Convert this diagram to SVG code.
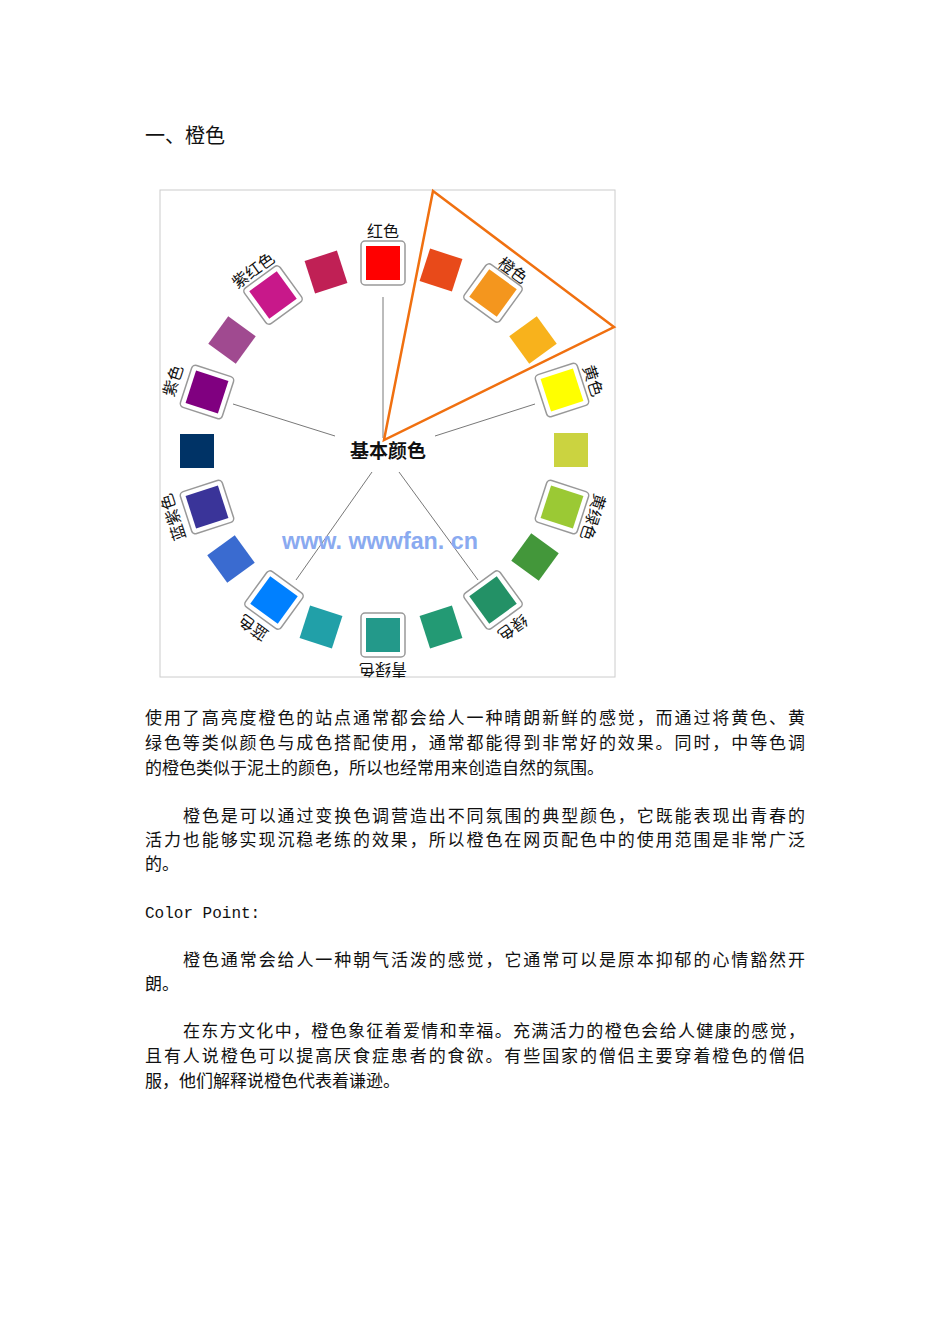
<svg xmlns="http://www.w3.org/2000/svg" width="950" height="1344" viewBox="0 0 950 1344">
<style>
.t{font-family:"Noto Sans CJK SC","Liberation Serif",serif;font-size:17px;fill:#111}
.l{font-family:"Noto Sans CJK SC",sans-serif;font-size:16px;fill:#111;text-anchor:middle}
.fr{fill:#fff;stroke:#999;stroke-width:1.5}
.ln{stroke:#555;stroke-width:0.8;fill:none}
</style>
<rect width="950" height="1344" fill="#fff"/>
<text class="t" x="145" y="143" style="font-size:20px">一、橙色</text>
<rect x="160" y="190" width="455" height="487" fill="#fff" stroke="#ccc"/>
<g id="connectors">
<line class="ln" x1="383" y1="297" x2="383" y2="438"/>
<line class="ln" x1="233" y1="404" x2="335" y2="436"/>
<line class="ln" x1="535" y1="404" x2="435" y2="436"/>
<line class="ln" x1="296" y1="580" x2="372" y2="472"/>
<line class="ln" x1="478" y1="580" x2="399" y2="472"/>
</g>
<g id="wheel">
<g transform="translate(383,263)"><rect class="fr" x="-22" y="-22" width="44" height="44" rx="4"/><rect x="-17" y="-17" width="34" height="34" fill="#ff0000"/></g>
<g transform="translate(441,270) rotate(18)"><rect x="-17" y="-17" width="34" height="34" fill="#e84a1a"/></g>
<g transform="translate(493,293) rotate(36)"><rect class="fr" x="-22" y="-22" width="44" height="44" rx="4"/><rect x="-17" y="-17" width="34" height="34" fill="#f4961e"/></g>
<g transform="translate(533,340) rotate(54)"><rect x="-17" y="-17" width="34" height="34" fill="#f8b21c"/></g>
<g transform="translate(562,390) rotate(72)"><rect class="fr" x="-22" y="-22" width="44" height="44" rx="4"/><rect x="-17" y="-17" width="34" height="34" fill="#ffff00"/></g>
<g transform="translate(571,450) rotate(90)"><rect x="-17" y="-17" width="34" height="34" fill="#cbd340"/></g>
<g transform="translate(562,507) rotate(108)"><rect class="fr" x="-22" y="-22" width="44" height="44" rx="4"/><rect x="-17" y="-17" width="34" height="34" fill="#9bc934"/></g>
<g transform="translate(535,557) rotate(126)"><rect x="-17" y="-17" width="34" height="34" fill="#43973a"/></g>
<g transform="translate(493,600) rotate(144)"><rect class="fr" x="-22" y="-22" width="44" height="44" rx="4"/><rect x="-17" y="-17" width="34" height="34" fill="#239166"/></g>
<g transform="translate(441,627) rotate(162)"><rect x="-17" y="-17" width="34" height="34" fill="#239a74"/></g>
<g transform="translate(383,635) rotate(180)"><rect class="fr" x="-22" y="-22" width="44" height="44" rx="4"/><rect x="-17" y="-17" width="34" height="34" fill="#23998a"/></g>
<g transform="translate(321,627) rotate(198)"><rect x="-17" y="-17" width="34" height="34" fill="#21a0a8"/></g>
<g transform="translate(274,600) rotate(216)"><rect class="fr" x="-22" y="-22" width="44" height="44" rx="4"/><rect x="-17" y="-17" width="34" height="34" fill="#0080ff"/></g>
<g transform="translate(231,559) rotate(234)"><rect x="-17" y="-17" width="34" height="34" fill="#3a6bd0"/></g>
<g transform="translate(207,507) rotate(252)"><rect class="fr" x="-22" y="-22" width="44" height="44" rx="4"/><rect x="-17" y="-17" width="34" height="34" fill="#3a3499"/></g>
<g transform="translate(197,451)"><rect x="-17" y="-17" width="34" height="34" fill="#003366"/></g>
<g transform="translate(207,392) rotate(288)"><rect class="fr" x="-22" y="-22" width="44" height="44" rx="4"/><rect x="-17" y="-17" width="34" height="34" fill="#800080"/></g>
<g transform="translate(232,340) rotate(306)"><rect x="-17" y="-17" width="34" height="34" fill="#a04a90"/></g>
<g transform="translate(273,295) rotate(324)"><rect class="fr" x="-22" y="-22" width="44" height="44" rx="4"/><rect x="-17" y="-17" width="34" height="34" fill="#c8188a"/></g>
<g transform="translate(326,272) rotate(342)"><rect x="-17" y="-17" width="34" height="34" fill="#c02055"/></g>
</g>
<g id="labels">
<text class="l" transform="translate(383,237)">红色</text>
<text class="l" transform="translate(383,449) rotate(36) translate(0,-215)">橙色</text>
<text class="l" transform="translate(383,449) rotate(72) translate(0,-215)">黄色</text>
<text class="l" transform="translate(383,449) rotate(108) translate(0,-215)">黄绿色</text>
<text class="l" transform="translate(383,449) rotate(144) translate(0,-215)">绿色</text>
<text class="l" transform="translate(383,449) rotate(180) translate(0,-215)">青绿色</text>
<text class="l" transform="translate(383,449) rotate(216) translate(0,-215)">蓝色</text>
<text class="l" transform="translate(383,449) rotate(252) translate(0,-215)">蓝紫色</text>
<text class="l" transform="translate(383,449) rotate(288) translate(0,-215)">紫色</text>
<text class="l" transform="translate(383,449) rotate(324) translate(0,-215)">紫红色</text>
</g>
<polygon points="433,191 614,327 384,440" fill="none" stroke="#f07010" stroke-width="2.5"/>
<text x="388" y="458" style="font-family:'Noto Sans CJK SC',sans-serif;font-size:19px;font-weight:bold;text-anchor:middle;fill:#111">基本颜色</text>
<text x="282" y="549" textLength="196" lengthAdjust="spacingAndGlyphs" style="font-family:'Liberation Sans',sans-serif;font-size:23px;font-weight:bold;fill:#8aaaf0">www. wwwfan. cn</text>
<g class="t">
<text x="145" y="724" textLength="660">使用了高亮度橙色的站点通常都会给人一种晴朗新鲜的感觉，而通过将黄色、黄</text>
<text x="145" y="749" textLength="660">绿色等类似颜色与成色搭配使用，通常都能得到非常好的效果。同时，中等色调</text>
<text x="145" y="774">的橙色类似于泥土的颜色，所以也经常用来创造自然的氛围。</text>
<text x="183" y="822" textLength="622">橙色是可以通过变换色调营造出不同氛围的典型颜色，它既能表现出青春的</text>
<text x="145" y="846" textLength="660">活力也能够实现沉稳老练的效果，所以橙色在网页配色中的使用范围是非常广泛</text>
<text x="145" y="870">的。</text>
<text x="145" y="918" style="font-family:'Liberation Mono',monospace;font-size:16px">Color Point:</text>
<text x="183" y="966" textLength="622">橙色通常会给人一种朝气活泼的感觉，它通常可以是原本抑郁的心情豁然开</text>
<text x="145" y="990">朗。</text>
<text x="183" y="1037" textLength="622">在东方文化中，橙色象征着爱情和幸福。充满活力的橙色会给人健康的感觉，</text>
<text x="145" y="1062" textLength="660">且有人说橙色可以提高厌食症患者的食欲。有些国家的僧侣主要穿着橙色的僧侣</text>
<text x="145" y="1087">服，他们解释说橙色代表着谦逊。</text>
</g>
</svg>
